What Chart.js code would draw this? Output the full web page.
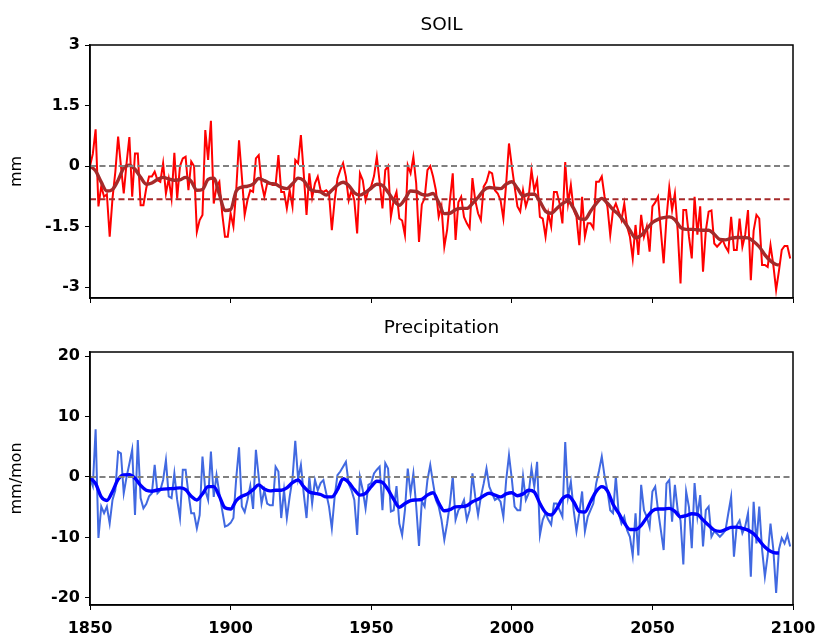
<!DOCTYPE html>
<html><head><meta charset="utf-8">
<script src="https://cdn.jsdelivr.net/npm/chart.js@4/dist/chart.umd.min.js"></script>
<style>
body{margin:0;background:#fff;width:819px;height:638px;overflow:hidden;position:relative}
canvas{position:absolute;left:0}
#c1{top:0}
#c2{top:310px}
</style></head><body>
<canvas id="c1" width="819" height="320"></canvas>
<canvas id="c2" width="819" height="328"></canvas>
<script>
// ---------------- DATA ----------------
const startYear = 1850;
const yearTicks = [1850, 1900, 1950, 2000, 2050, 2100];
const soilTicks = [-3, -1.5, 0, 1.5, 3];
const precipTicks = [-20, -10, 0, 10, 20];
const panelTitles = ["SOIL", "Precipitation"];
const axisLabels = ["mm", "mm/mon"];
const soilMeanLevel = -0.82;
const zeroLevel = 0;

const soilValues = [
 0.0, 0.3, 0.91, -1.0, -0.5, -0.76, -0.7, -1.75, -0.8, -0.15,
 0.73, 0.0, -0.68, 0.07, 0.72, -0.76, 0.31, 0.31, -0.97, -0.97,
 -0.55, -0.26, -0.26, -0.14, -0.35, -0.39, 0.07, -0.68, -0.31, -0.80,
 0.33, -0.80, 0.0, 0.19, 0.23, -0.6, 0.11, 0.0, -1.63, -1.34,
 -1.21, 0.89, 0.15, 1.12, -0.93, -0.51, -0.39, -1.17, -1.75, -1.75,
 -1.17, -1.5, -0.6, 0.64, -0.26, -1.21, -0.85, -0.6, -0.64, 0.19,
 0.27, -0.43, -0.76, -0.43, -0.43, -0.47, -0.47, 0.27, -0.64, -0.64,
 -1.05, -0.6, -1.0, 0.15, 0.07, 0.77, -0.18, -1.21, -0.18, -0.78,
 -0.43, -0.26, -0.6, -0.64, -0.6, -0.68, -1.59, -0.85, -0.31, -0.1,
 0.07, -0.26, -0.85, -0.6, -0.85, -1.67, -0.18, -0.35, -0.85, -0.6,
 -0.5, -0.25, 0.23, -0.4, -1.05, -0.1, 0.0, -1.26, -0.85, -0.64,
 -1.3, -1.35, -1.71, 0.02, -0.18, 0.23, -0.43, -1.88, -0.95, -0.8,
 -0.1, 0.0, -0.26, -0.6, -1.26, -1.0, -2.0, -1.58, -0.85, -0.18,
 -1.83, -0.9, -0.76, -1.26, -1.42, -1.54, -0.3, -0.85, -1.17, -1.34,
 -0.51, -0.39, -0.14, -0.18, -0.6, -0.68, -0.85, -1.3, -0.43, 0.56,
 0.0, -0.51, -1.0, -1.13, -0.6, -1.0, -0.76, -0.1, -0.6, -0.35,
 -1.26, -1.3, -1.75, -1.17, -1.5, -0.64, -0.64, -0.93, -1.42, 0.1,
 -0.93, -0.47, -1.09, -1.26, -1.96, -0.76, -1.75, -1.42, -1.42, -1.54,
 -0.39, -0.39, -0.26, -0.76, -1.0, -1.71, -1.09, -0.93, -1.13, -1.34,
 -0.93, -1.5, -1.75, -2.29, -1.46, -2.2, -1.21, -1.75, -1.5, -2.12,
 -1.0, -0.9, -0.76, -1.6, -2.41, -1.3, -0.53, -1.09, -0.68, -1.6,
 -2.91, -1.09, -1.09, -1.75, -2.29, -0.76, -1.7, -1.0, -2.62, -1.6,
 -1.13, -1.1, -1.92, -2.0, -1.92, -1.83, -2.0, -2.12, -1.26, -2.08,
 -2.08, -1.3, -2.0, -1.7, -1.09, -2.83, -1.6, -1.21, -1.3, -2.45,
 -2.45, -2.5, -1.96, -2.45, -3.07, -2.6, -2.08, -1.98, -1.98, -2.29
];

const soilSmoothYears = [1850,1852,1854,1856,1858,1860,1862,1864,1866,1868,1870,1872,1874,1876,1878,1880,1882,1884,1886,1888,1890,1892,1894,1896,1898,1900,1902,1904,1906,1908,1910,1912,1914,1916,1918,1920,1922,1924,1926,1928,1930,1932,1934,1936,1938,1940,1942,1944,1946,1948,1950,1952,1954,1956,1958,1960,1962,1964,1966,1968,1970,1972,1974,1976,1978,1980,1982,1984,1986,1988,1990,1992,1994,1996,1998,2000,2002,2004,2006,2008,2010,2012,2014,2016,2018,2020,2022,2024,2026,2028,2030,2032,2034,2036,2038,2040,2042,2044,2046,2048,2050,2052,2054,2056,2058,2060,2062,2064,2066,2068,2070,2072,2074,2076,2078,2080,2082,2084,2086,2088,2090,2092,2094,2095];
const soilSmoothValues = [
 0.0, -0.12, -0.4, -0.62, -0.58, -0.35, -0.05, 0.02, -0.08, -0.28,
 -0.45, -0.42, -0.33, -0.28, -0.32, -0.35, -0.34, -0.28, -0.38, -0.6,
 -0.58, -0.33, -0.3, -0.7, -1.1, -1.08, -0.62, -0.52, -0.5, -0.45,
 -0.31, -0.36, -0.43, -0.45, -0.53, -0.56, -0.44, -0.3, -0.36, -0.56,
 -0.62, -0.64, -0.72, -0.6, -0.47, -0.4, -0.48, -0.66, -0.72, -0.65,
 -0.55, -0.45, -0.48, -0.65, -0.85, -0.97, -0.82, -0.62, -0.63, -0.7,
 -0.72, -0.68, -0.9, -1.18, -1.17, -1.08, -1.05, -1.05, -0.93, -0.78,
 -0.6, -0.53, -0.55, -0.56, -0.45, -0.39, -0.55, -0.74, -0.7, -0.7,
 -0.88, -1.12, -1.17, -1.05, -0.93, -0.87, -1.05, -1.3, -1.32, -1.12,
 -0.93, -0.8, -0.92, -1.08, -1.2, -1.38, -1.59, -1.78, -1.72, -1.56,
 -1.4, -1.32, -1.28, -1.26, -1.33, -1.52, -1.57, -1.57, -1.58, -1.59,
 -1.59, -1.69, -1.82, -1.83, -1.79, -1.77, -1.77, -1.78, -1.87, -2.0,
 -2.2, -2.35, -2.44, -2.45
];

const precipValues = [
 -0.2, -1.5, 7.9, -10.1, -4.9, -6.0, -4.9, -7.7, -3.8, -2.2,
 4.2, 3.9, -2.7, 0.0, 2.2, 4.5, -6.3, 6.1, -3.5, -5.2,
 -4.5, -3.2, -2.7, 2.0, -2.7, -2.2, -0.5, 2.8, -3.2, -3.5,
 0.6, -3.8, -6.8, 1.2, 1.2, -2.7, -6.0, -6.0, -8.5, -6.3,
 3.4, -2.2, -3.8, 4.2, -3.3, 0.3, -2.7, -5.5, -8.2, -8.0,
 -7.6, -6.8, -0.2, 4.9, -4.9, -5.8, -3.8, -1.5, -5.3, 4.5,
 0.0, -4.4, -2.2, -4.4, -4.7, -4.7, 1.7, 0.9, -6.8, -2.2,
 -6.8, -3.3, -0.3, 6.0, -0.3, 2.0, -2.7, -6.8, 0.0, -4.4,
 -0.5, -2.2, -1.0, -0.5, -2.7, -4.9, -8.5, -3.3, 0.3, 0.9,
 1.7, 2.5, -1.1, -2.2, -3.8, -9.6, 0.0, -2.2, -5.2, -1.3,
 -1.0, 0.6, 1.2, 1.7, -5.5, 2.3, 1.4, -5.7, -5.5, -1.5,
 -7.7, -9.6, -5.5, 1.4, -2.7, 0.6, -4.8, -11.4, -4.0, -4.9,
 -0.5, 2.0, -1.0, -3.8, -4.9, -7.1, -10.4, -7.7, -4.4, 0.1,
 -7.1, -5.5, -4.9, -3.8, -7.1, -5.5, 0.6, -3.3, -6.3, -3.3,
 -1.1, 1.4, -1.6, -2.7, -3.8, -3.5, -4.1, -6.6, -0.5, 3.6,
 -0.3, -4.9, -5.5, -5.5, 0.1, -3.8, -2.7, 1.4, -1.6, 2.5,
 -9.6, -7.1, -6.0, -7.1, -7.9, -4.4, -4.4, -5.5, -6.6, 5.8,
 -3.3, -0.8, -5.5, -9.0, -6.0, -2.4, -9.0, -6.6, -5.5, -4.4,
 -1.1, 1.0, 3.4, 0.1, -2.2, -5.5, -6.0, 0.1, -6.0, -7.7,
 -6.6, -8.8, -9.9, -13.0, -6.0, -13.0, -1.3, -5.5, -6.6, -8.3,
 -2.4, -1.6, -5.5, -8.8, -12.1, -1.1, -0.5, -7.4, -1.3, -5.5,
 -7.2, -14.5, -2.4, -5.0, -11.8, -1.0, -6.5, -3.0, -11.5, -5.5,
 -4.9, -9.9, -9.0, -9.4, -9.9, -9.4, -8.8, -6.0, -3.3, -13.2,
 -8.0, -7.2, -9.3, -8.2, -6.0, -16.5, -4.1, -11.0, -4.9, -12.0,
 -16.5, -13.0, -7.7, -12.0, -19.2, -12.0, -10.1, -11.0, -9.6, -11.5
];

const precipSmoothYears = soilSmoothYears;
const precipSmoothValues = [
 -0.2, -1.1, -3.3, -3.9, -2.4, -0.4, 0.35, 0.4, -0.2, -1.4,
 -2.2, -2.35, -2.15, -2.0, -1.95, -1.9, -1.8, -2.1, -3.2, -3.8,
 -2.8, -1.6, -1.6, -3.2, -5.1, -5.3, -3.9, -3.2, -2.8, -2.1,
 -1.3, -2.0, -2.3, -2.2, -2.2, -1.8, -0.95, -0.5, -1.6, -2.5,
 -2.7, -2.9, -3.3, -3.3, -2.1, -0.3, -0.9, -2.1, -3.0, -2.7,
 -1.6, -0.7, -0.9, -2.1, -3.7, -5.0, -4.4, -3.9, -3.8, -3.7,
 -3.0, -2.6, -4.3, -5.6, -5.4, -4.95, -4.9, -4.75, -4.1, -3.7,
 -3.1, -2.7, -3.0, -3.3, -2.8, -2.6, -3.1, -2.8, -2.2, -2.5,
 -4.4, -5.9, -6.3, -5.2, -3.6, -3.1, -4.1, -5.7, -5.8, -4.1,
 -2.4, -1.6, -2.3, -4.5, -6.0, -7.6, -8.7, -8.7, -8.0, -6.7,
 -5.6, -5.3, -5.3, -5.2, -5.7, -6.6, -6.4, -6.1, -6.2, -7.1,
 -8.0, -8.8, -9.0, -8.7, -8.35, -8.3, -8.5, -8.8, -9.4, -10.5,
 -11.6, -12.3, -12.6, -12.6
];

// ---------------- RENDER ----------------
Chart.defaults.font.family = "'DejaVu Sans', sans-serif";
Chart.defaults.color = '#000';

const years = soilValues.map((_, i) => startYear + i);
const toXY = (xs, ys) => ys.map((v, i) => ({x: xs[i], y: v}));
const hLine = v => [{x: yearTicks[0], y: v}, {x: yearTicks[yearTicks.length - 1], y: v}];

function makeChart(canvasId, cfg) {
  const H = document.getElementById(canvasId).height;
  const framePlugin = {
    id: 'frame',
    afterDraw(chart) {
      const a = chart.chartArea, c = chart.ctx;
      c.save();
      c.strokeStyle = '#000'; c.lineWidth = 1.5;
      c.strokeRect(a.left, a.top, a.right - a.left, a.bottom - a.top);
      c.fillStyle = '#000';
      c.font = "18.5px 'DejaVu Sans'";
      c.textAlign = 'center'; c.textBaseline = 'middle';
      c.fillText(cfg.title, (a.left + a.right) / 2, cfg.titleY);
      c.restore();
    }
  };
  return new Chart(document.getElementById(canvasId), {
    type: 'line',
    data: {datasets: cfg.datasets},
    options: {
      responsive: false, animation: false, events: [],
      layout: {padding: {top: cfg.plotTop, right: 26, left: 0, bottom: 0}},
      plugins: {legend: {display: false}, tooltip: {enabled: false}, title: {display: false}},
      scales: {
        x: {
          type: 'linear', min: yearTicks[0], max: yearTicks[yearTicks.length - 1],
          afterBuildTicks: s => { s.ticks = yearTicks.map(v => ({value: v})); },
          afterFit: s => { s.height = H - cfg.plotBottom; s.paddingLeft = 0; s.paddingRight = 0; },
          ticks: {display: cfg.showX, autoSkip: false, maxRotation: 0, padding: 9,
                  font: {size: 16, weight: 'bold'}, color: '#000', callback: v => String(v)},
          grid: {drawOnChartArea: false, drawTicks: true, tickLength: 5, color: '#000', lineWidth: 1},
          border: {display: true, color: '#000', width: 1.5}
        },
        y: {
          min: cfg.yMin, max: cfg.yMax,
          afterBuildTicks: s => { s.ticks = cfg.yTicks.map(v => ({value: v})); },
          afterFit: s => { s.width = 90; s.paddingTop = 0; s.paddingBottom = 0; },
          ticks: {padding: 5, font: {size: 16, weight: 'bold'}, color: '#000', callback: v => String(v)},
          title: {display: true, text: cfg.yLabel, font: {size: 16}, color: '#000', padding: {top: 7, bottom: 0}},
          grid: {drawOnChartArea: false, drawTicks: true, tickLength: 5, color: '#000', lineWidth: 1},
          border: {display: true, color: '#000', width: 1.5}
        }
      }
    },
    plugins: [framePlugin]
  });
}

const lineBase = {pointRadius: 0, fill: false};

makeChart('c1', {
  title: panelTitles[0], titleY: 25, plotTop: 45, plotBottom: 298,
  yMin: -3.27, yMax: 3, yTicks: soilTicks, yLabel: axisLabels[0], showX: false,
  datasets: [
    Object.assign({}, lineBase, {data: toXY(years, soilValues), borderColor: '#ff0000', borderWidth: 2, tension: 0, order: 3}),
    Object.assign({}, lineBase, {data: toXY(soilSmoothYears, soilSmoothValues), borderColor: '#a52a2a', borderWidth: 3.4, cubicInterpolationMode: 'monotone', order: 2}),
    Object.assign({}, lineBase, {data: hLine(zeroLevel), borderColor: '#808080', borderWidth: 2, borderDash: [6, 3.5], order: 1}),
    Object.assign({}, lineBase, {data: hLine(soilMeanLevel), borderColor: '#a52a2a', borderWidth: 2, borderDash: [6, 3.5], order: 1})
  ]
});

makeChart('c2', {
  title: panelTitles[1], titleY: 18, plotTop: 42, plotBottom: 295,
  yMin: -21.2, yMax: 20.7, yTicks: precipTicks, yLabel: axisLabels[1], showX: true,
  datasets: [
    Object.assign({}, lineBase, {data: toXY(years, precipValues), borderColor: '#4169e1', borderWidth: 2, tension: 0, order: 3}),
    Object.assign({}, lineBase, {data: toXY(precipSmoothYears, precipSmoothValues), borderColor: '#0000ff', borderWidth: 3.4, cubicInterpolationMode: 'monotone', order: 2}),
    Object.assign({}, lineBase, {data: hLine(zeroLevel), borderColor: '#808080', borderWidth: 2, borderDash: [6, 3.5], order: 1})
  ]
});
</script>
</body></html>
